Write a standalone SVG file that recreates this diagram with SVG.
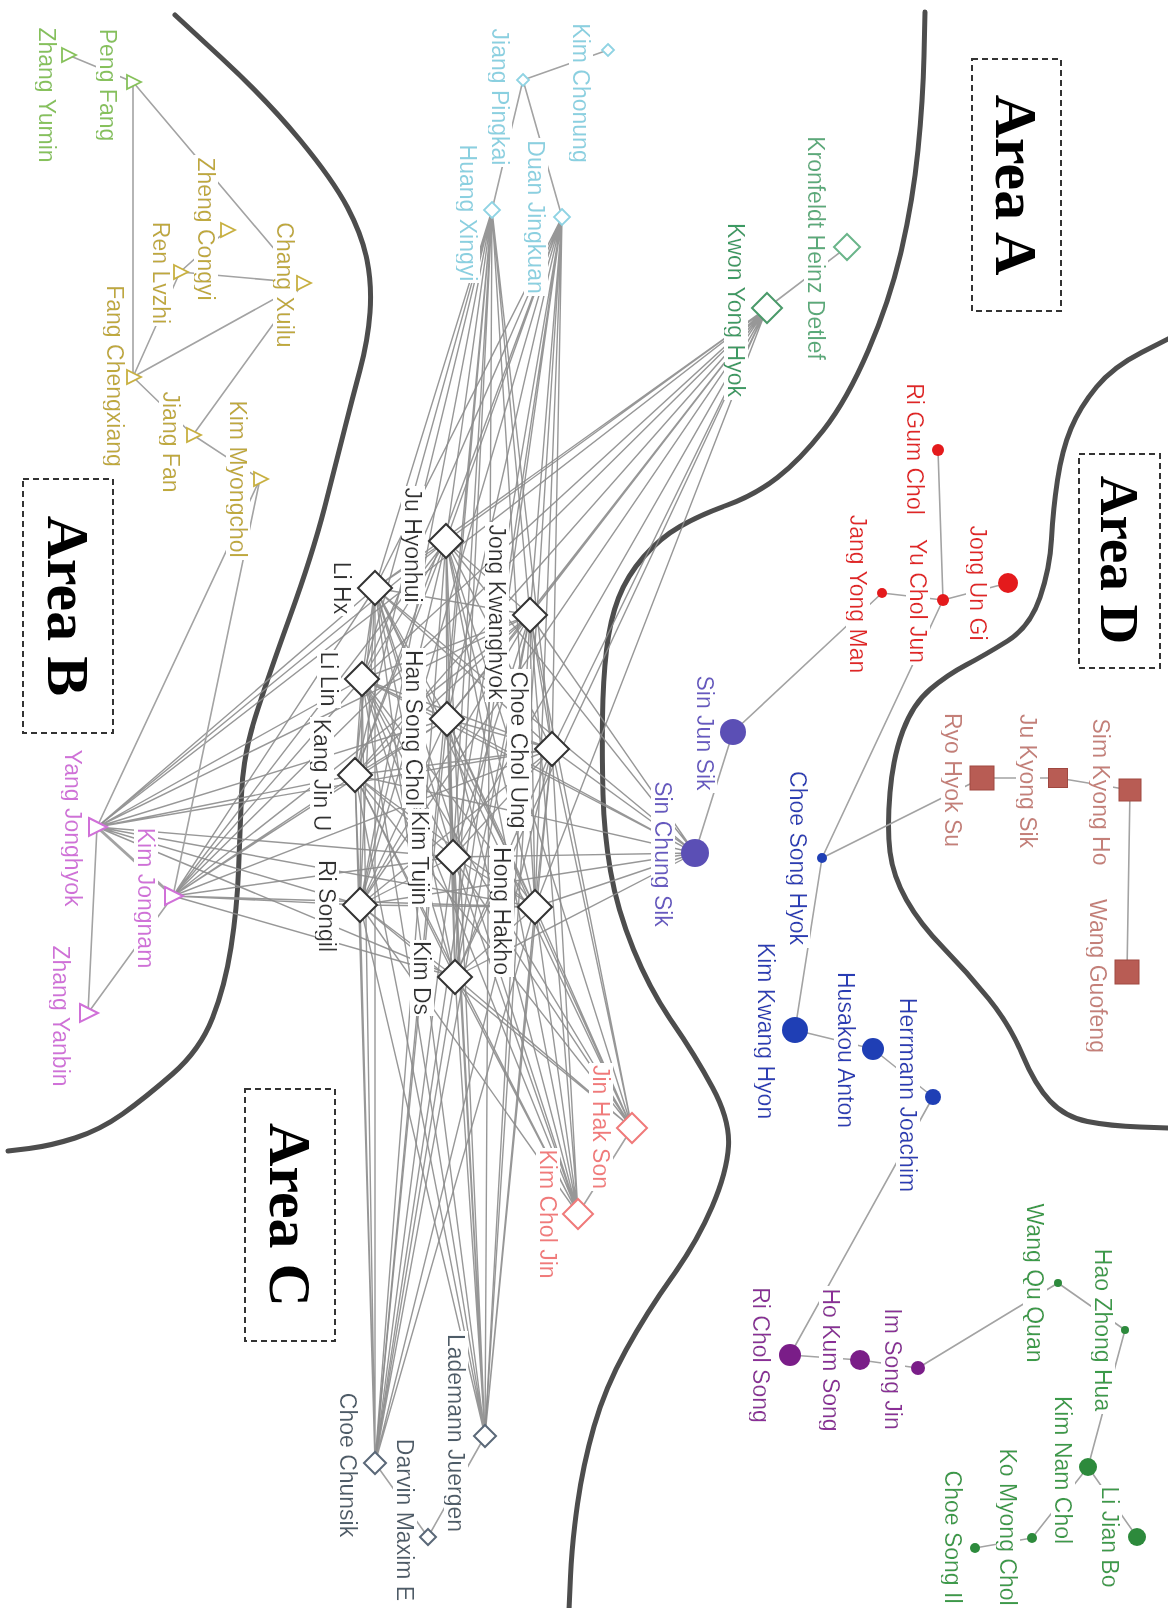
<svg xmlns="http://www.w3.org/2000/svg" xmlns:xlink="http://www.w3.org/1999/xlink" width="1168" height="1608" viewBox="0 0 1168 1608">
<style>
.bd{fill:none;stroke:#4d4d4d;stroke-width:5;stroke-linecap:round}
.box{fill:none;stroke:#333;stroke-width:2;stroke-dasharray:6 4}
.area{font-family:"Liberation Serif","Times New Roman",serif;font-weight:bold;font-size:60px;fill:#000;text-anchor:middle}
.e{fill:none;stroke:#a3a3a3;stroke-width:1.6}
.ed{fill:none;stroke:#8c8c8c;stroke-width:1.4;stroke-opacity:.9}
.lb{font-family:"Liberation Sans",Arial,sans-serif;font-size:23px;text-anchor:middle;filter:url(#lbg)}
.c-gray{fill:#333}.c-lg{fill:#86c15a}.c-yl{fill:#bfa93a}.c-mg{fill:#d070d8}.c-cy{fill:#8ad0e0}.c-gr{fill:#3c9a64}.c-gr2{fill:#5aaa7a}
.c-red{fill:#e02828}.c-br{fill:#c47f78}.c-sb{fill:#6658c0}.c-bl{fill:#2a3db4}.c-pu{fill:#8a2f96}.c-dg{fill:#3a9a48}.c-pk{fill:#f07a7a}.c-sl{fill:#4d5b68}
.s-gray{fill:#fff;stroke:#333;stroke-width:2}.s-gr{fill:#fff;stroke:#4a9a6a;stroke-width:2}.s-gr2{fill:#fff;stroke:#6ab58a;stroke-width:2}
.s-cy{fill:#fff;stroke:#8fd3e3;stroke-width:1.8}.s-pk{fill:#fff;stroke:#f07a7a;stroke-width:2}.s-sl{fill:#fff;stroke:#5a6878;stroke-width:2}
.s-lg{fill:#fff;stroke:#86c15a;stroke-width:1.8}.s-yl{fill:#fff;stroke:#c8b040;stroke-width:1.8}.s-mg{fill:#fff;stroke:#d070d8;stroke-width:2}
.f-red{fill:#e41a1c}.f-sb{fill:#5b4fb5}.f-bl{fill:#1f3fb5}.f-pu{fill:#7a1d88}.f-dg{fill:#2d8a3c}.f-br{fill:#b85c54;stroke:#a04840;stroke-width:1}
</style>
<defs>
<filter id="lbg" x="-0.01" y="0.05" width="1.02" height="0.9">
<feFlood flood-color="#fff" result="bg"/>
<feComposite in="SourceGraphic" in2="bg" operator="over"/>
</filter>
<path id="dL" d="M0,-17L17,0L0,17L-17,0Z"/>
<path id="dM" d="M0,-15L15,0L0,15L-15,0Z"/>
<path id="dK" d="M0,-13L13,0L0,13L-13,0Z"/>
<path id="dS" d="M0,-11L11,0L0,11L-11,0Z"/>
<path id="dX" d="M0,-8L8,0L0,8L-8,0Z"/>
<path id="dXX" d="M0,-6L6,0L0,6L-6,0Z"/>
<path id="tS" d="M-6,-7L8,0L-6,7Z"/>
<path id="tL" d="M-8,-9L10,0L-8,9Z"/>
</defs>
<rect width="1168" height="1608" fill="#fff"/>

<g id="boundaries">
<path class="bd" d="M175,15 L221,57.5 Q267,100 300,140 Q333,180 347.5,207.5 Q362,235 367,260 Q372,285 370,312.5 Q368,340 360,370 Q352,400 345,427.5 Q338,455 325.5,504 Q313,553 290,616.5 Q267,680 255,718 Q243,756 241.5,794.5 Q240,833 238.5,871 Q237,909 231,947.5 Q225,986 212.5,1018 Q200,1050 172.5,1074 Q145,1098 122.5,1114 Q100,1130 75,1138 Q50,1146 29,1148.5 L8,1151"/>
<path class="bd" d="M925,12 L924,56 Q923,100 918,150 Q913,200 901.5,250 Q890,300 868.5,350 Q847,400 823.5,430 Q800,460 777.5,477.5 Q755,495 727.5,505 Q700,515 680,526.5 Q660,538 643.5,557 Q627,576 618.5,598 Q610,620 606.5,650 Q603,680 602.5,718 Q602,756 603,794.5 Q604,833 610.5,871 Q617,909 633.5,949.5 Q650,990 672.5,1022.5 Q695,1055 712.5,1087.5 Q730,1120 728.5,1146 Q727,1172 712,1207 Q697,1242 672,1277 Q647,1312 626,1350 Q605,1388 594,1426.5 Q583,1465 577.5,1504 Q572,1543 570.5,1576.5 L569,1610"/>
<path class="bd" d="M1170,338 L1141.5,352.5 Q1113,367 1096.5,387 Q1080,407 1071,428.5 Q1062,450 1057.5,480 Q1053,510 1051.5,539 Q1050,568 1040,597.5 Q1030,627 1007.5,641 Q985,655 966,665 Q947,675 930,689.5 Q913,704 903,730.5 Q893,757 890,792.5 Q887,828 890,852 Q893,876 906.5,900 Q920,924 943.5,948 Q967,972 988.5,998.5 Q1010,1025 1022.5,1055 Q1035,1085 1050,1101 Q1065,1117 1087.5,1121.5 Q1110,1126 1140,1127 L1170,1128"/>
</g>

<g id="area-labels">
<g id="area-a"><rect class="box" x="972" y="59" width="89" height="252"/><text class="area" transform="translate(996,185) rotate(90)">Area A</text></g>
<g id="area-b"><rect class="box" x="23" y="479" width="90" height="254"/><text class="area" transform="translate(48,606) rotate(90)">Area B</text></g>
<g id="area-c"><rect class="box" x="245" y="1089" width="90" height="252"/><text class="area" transform="translate(270,1215) rotate(90)">Area C</text></g>
<g id="area-d"><rect class="box" x="1079" y="454" width="81" height="214"/><text class="area" style="font-size:55px" transform="translate(1101,560) rotate(90)">Area D</text></g>
</g>

<g id="connectors">
<path class="ed" d="M492,210L375,588M492,210L446,541M492,210L530,615M492,210L362,679M492,210L447,719M492,210L552,749M492,210L355,775M492,210L453,857M492,210L535,907M492,210L360,905M492,210L455,977M492,210L485,1436M492,210L375,1463"/>
<path class="ed" d="M562,217L375,588M562,217L446,541M562,217L530,615M562,217L362,679M562,217L447,719M562,217L552,749M562,217L355,775M562,217L453,857M562,217L535,907M562,217L360,905M562,217L455,977M562,217L485,1436M562,217L375,1463"/>
<path class="ed" d="M767,308L375,588M767,308L446,541M767,308L530,615M767,308L362,679M767,308L447,719M767,308L552,749M767,308L355,775M767,308L453,857M767,308L535,907M767,308L360,905M767,308L455,977M767,308L97,827M767,308L173,896"/>
<path class="ed" d="M695,853L375,588M695,853L446,541M695,853L530,615M695,853L362,679M695,853L447,719M695,853L552,749M695,853L355,775M695,853L453,857M695,853L535,907M695,853L360,905M695,853L455,977"/>
<path class="ed" d="M97,827L375,588M97,827L446,541M97,827L530,615M97,827L362,679M97,827L447,719M97,827L552,749M97,827L355,775M97,827L453,857M97,827L535,907M97,827L360,905M97,827L455,977"/>
<path class="ed" d="M173,896L375,588M173,896L446,541M173,896L530,615M173,896L362,679M173,896L447,719M173,896L552,749M173,896L355,775M173,896L453,857M173,896L535,907M173,896L360,905M173,896L455,977"/>
<path class="ed" d="M632,1128L375,588M632,1128L446,541M632,1128L530,615M632,1128L362,679M632,1128L447,719M632,1128L552,749M632,1128L355,775M632,1128L453,857M632,1128L535,907M632,1128L360,905M632,1128L455,977"/>
<path class="ed" d="M578,1214L375,588M578,1214L446,541M578,1214L530,615M578,1214L362,679M578,1214L447,719M578,1214L552,749M578,1214L355,775M578,1214L453,857M578,1214L535,907M578,1214L360,905M578,1214L455,977"/>
<path class="ed" d="M485,1436L375,588M485,1436L446,541M485,1436L530,615M485,1436L362,679M485,1436L447,719M485,1436L552,749M485,1436L355,775M485,1436L453,857M485,1436L535,907M485,1436L360,905M485,1436L455,977"/>
<path class="ed" d="M375,1463L375,588M375,1463L446,541M375,1463L530,615M375,1463L362,679M375,1463L447,719M375,1463L552,749M375,1463L355,775M375,1463L453,857M375,1463L535,907M375,1463L360,905M375,1463L455,977"/>
<path class="ed" d="M375,588L446,541M375,588L530,615M375,588L362,679M375,588L447,719M375,588L552,749M375,588L355,775M375,588L453,857M375,588L535,907M375,588L360,905M375,588L455,977M446,541L530,615M446,541L362,679M446,541L447,719M446,541L552,749M446,541L355,775M446,541L453,857M446,541L535,907M446,541L360,905M446,541L455,977M530,615L362,679M530,615L447,719M530,615L552,749M530,615L355,775M530,615L453,857M530,615L535,907M530,615L360,905M530,615L455,977M362,679L447,719M362,679L552,749M362,679L355,775M362,679L453,857M362,679L535,907M362,679L360,905M362,679L455,977M447,719L552,749M447,719L355,775M447,719L453,857M447,719L535,907M447,719L360,905M447,719L455,977M552,749L355,775M552,749L453,857M552,749L535,907M552,749L360,905M552,749L455,977M355,775L453,857M355,775L535,907M355,775L360,905M355,775L455,977M453,857L535,907M453,857L360,905M453,857L455,977M535,907L360,905M535,907L455,977M360,905L455,977"/>
<path class="e" d="M68,55L133,82M133,82L303,283M133,82L133,377M227,230L180,272M180,272L303,283M133,377L180,272M133,377L303,283M133,377L193,435M303,283L193,435M193,435L260,479M260,479L97,827M260,479L173,896M97,827L88,1013M173,896L88,1013"/>
<path class="e" style="stroke-width:3" d="M97,827L173,896"/>
<path class="e" d="M608,50L523,80M523,80L562,217M523,80L492,210M847,247L767,308"/>
<path class="e" d="M938,450L943,600M943,600L1008,583M943,600L882,593M882,593L733,732M943,600L822,858"/>
<path class="e" d="M1130,790L1058,778M1058,778L982,778M1130,790L1127,972M982,778L822,858"/>
<path class="e" d="M733,732L695,853M822,858L795,1030M795,1030L873,1049M873,1049L933,1097M933,1097L790,1355"/>
<path class="e" d="M790,1355L860,1360M860,1360L918,1368M918,1368L1058,1283"/>
<path class="e" d="M1058,1283L1125,1330M1125,1330L1088,1467M1088,1467L1137,1537M1088,1467L1032,1538M1032,1538L975,1548"/>
<path class="e" d="M485,1436L428,1537M375,1463L428,1537M632,1128L578,1214"/>
</g>

<g id="nodes">
<g id="n-zhang-yumin"><text class="lb c-lg" transform="translate(39,95) rotate(90)">Zhang Yumin</text><use href="#tS" x="68" y="55" class="s-lg"/></g>
<g id="n-peng-fang"><text class="lb c-lg" transform="translate(100,85) rotate(90)">Peng Fang</text><use href="#tS" x="133" y="82" class="s-lg"/></g>
<g id="n-zheng-congyi"><text class="lb c-yl" transform="translate(198,229) rotate(90)">Zheng Congyi</text><use href="#tS" x="227" y="230" class="s-yl"/></g>
<g id="n-ren-lvzhi"><text class="lb c-yl" transform="translate(153,273) rotate(90)">Ren Lvzhi</text><use href="#tS" x="180" y="272" class="s-yl"/></g>
<g id="n-chang-xuilu"><text class="lb c-yl" transform="translate(277,285) rotate(90)">Chang Xuilu</text><use href="#tS" x="303" y="283" class="s-yl"/></g>
<g id="n-fang-chengxiang"><text class="lb c-yl" transform="translate(107,376) rotate(90)">Fang Chengxiang</text><use href="#tS" x="133" y="377" class="s-yl"/></g>
<g id="n-jiang-fan"><text class="lb c-yl" transform="translate(163,442) rotate(90)">Jiang Fan</text><use href="#tS" x="193" y="435" class="s-yl"/></g>
<g id="n-kim-myongchol"><text class="lb c-yl" transform="translate(230,479) rotate(90)">Kim Myongchol</text><use href="#tS" x="260" y="479" class="s-yl"/></g>
<g id="n-yang-jonghyok"><text class="lb c-mg" transform="translate(65,828) rotate(90)">Yang Jonghyok</text><use href="#tL" x="97" y="827" class="s-mg"/></g>
<g id="n-kim-jongnam"><text class="lb c-mg" transform="translate(138,898) rotate(90)">Kim Jongnam</text><use href="#tL" x="173" y="896" class="s-mg"/></g>
<g id="n-zhang-yanbin"><text class="lb c-mg" transform="translate(53,1016) rotate(90)">Zhang Yanbin</text><use href="#tL" x="88" y="1013" class="s-mg"/></g>

<g id="n-kim-chonung"><text class="lb c-cy" transform="translate(573,93) rotate(90)">Kim Chonung</text><use href="#dXX" x="608" y="50" class="s-cy"/></g>
<g id="n-jiang-pingkai"><text class="lb c-cy" transform="translate(492,97) rotate(90)">Jiang Pingkai</text><use href="#dXX" x="523" y="80" class="s-cy"/></g>
<g id="n-duan-jingkuan"><text class="lb c-cy" transform="translate(528,217) rotate(90)">Duan Jingkuan</text><use href="#dX" x="562" y="217" class="s-cy"/></g>
<g id="n-huang-xingyi"><text class="lb c-cy" transform="translate(460,213) rotate(90)">Huang Xingyi</text><use href="#dX" x="492" y="210" class="s-cy"/></g>
<g id="n-kronfeldt"><text class="lb c-gr2" transform="translate(808,248) rotate(90)">Kronfeldt Heinz Detlef</text><use href="#dK" x="847" y="247" class="s-gr2"/></g>
<g id="n-kwon-yong-hyok"><text class="lb c-gr" transform="translate(728,310) rotate(90)">Kwon Yong Hyok</text><use href="#dM" x="767" y="308" class="s-gr"/></g>

<g id="n-ri-gum-chol"><text class="lb c-red" transform="translate(907,449) rotate(90)">Ri Gum Chol</text><circle cx="938" cy="450" r="6" class="f-red"/></g>
<g id="n-jong-un-gi"><text class="lb c-red" transform="translate(970,583) rotate(90)">Jong Un Gi</text><circle cx="1008" cy="583" r="10" class="f-red"/></g>
<g id="n-yu-chol-jun"><text class="lb c-red" transform="translate(910,601) rotate(90)">Yu Chol Jun</text><circle cx="943" cy="600" r="6" class="f-red"/></g>
<g id="n-jang-yong-man"><text class="lb c-red" transform="translate(850,594) rotate(90)">Jang Yong Man</text><circle cx="882" cy="593" r="5" class="f-red"/></g>

<g id="n-sim-kyong-ho"><text class="lb c-br" transform="translate(1093,792) rotate(90)">Sim Kyong Ho</text><rect x="1119" y="779" width="22" height="22" class="f-br"/></g>
<g id="n-ju-kyong-sik"><text class="lb c-br" transform="translate(1020,781) rotate(90)">Ju Kyong Sik</text><rect x="1048.5" y="768.5" width="19" height="19" class="f-br"/></g>
<g id="n-ryo-hyok-su"><text class="lb c-br" transform="translate(945,780) rotate(90)">Ryo Hyok Su</text><rect x="970" y="766" width="24" height="24" class="f-br"/></g>
<g id="n-wang-guofeng"><text class="lb c-br" transform="translate(1090,976) rotate(90)">Wang Guofeng</text><rect x="1115" y="960" width="24" height="24" class="f-br"/></g>

<g id="n-sin-jun-sik"><text class="lb c-sb" transform="translate(697,733) rotate(90)">Sin Jun Sik</text><circle cx="733" cy="732" r="13" class="f-sb"/></g>
<g id="n-sin-chung-sik"><text class="lb c-sb" transform="translate(655,854) rotate(90)">Sin Chung Sik</text><circle cx="695" cy="853" r="14" class="f-sb"/></g>
<g id="n-choe-song-hyok"><text class="lb c-bl" transform="translate(790,858) rotate(90)">Choe Song Hyok</text><circle cx="822" cy="858" r="5" class="f-bl"/></g>
<g id="n-kim-kwang-hyon"><text class="lb c-bl" transform="translate(758,1031) rotate(90)">Kim Kwang Hyon</text><circle cx="795" cy="1030" r="13" class="f-bl"/></g>
<g id="n-husakou-anton"><text class="lb c-bl" transform="translate(838,1050) rotate(90)">Husakou Anton</text><circle cx="873" cy="1049" r="11" class="f-bl"/></g>
<g id="n-herrmann-joachim"><text class="lb c-bl" transform="translate(900,1095) rotate(90)">Herrmann Joachim</text><circle cx="933" cy="1097" r="8" class="f-bl"/></g>

<g id="n-ri-chol-song"><text class="lb c-pu" transform="translate(753,1355) rotate(90)">Ri Chol Song</text><circle cx="790" cy="1355" r="11" class="f-pu"/></g>
<g id="n-ho-kum-song"><text class="lb c-pu" transform="translate(823,1360) rotate(90)">Ho Kum Song</text><circle cx="860" cy="1360" r="10" class="f-pu"/></g>
<g id="n-im-song-jin"><text class="lb c-pu" transform="translate(885,1369) rotate(90)">Im Song Jin</text><circle cx="918" cy="1368" r="7" class="f-pu"/></g>

<g id="n-wang-qu-quan"><text class="lb c-dg" transform="translate(1027,1283) rotate(90)">Wang Qu Quan</text><circle cx="1058" cy="1283" r="4" class="f-dg"/></g>
<g id="n-hao-zhong-hua"><text class="lb c-dg" transform="translate(1095,1330) rotate(90)">Hao Zhong Hua</text><circle cx="1125" cy="1330" r="4" class="f-dg"/></g>
<g id="n-kim-nam-chol"><text class="lb c-dg" transform="translate(1055,1470) rotate(90)">Kim Nam Chol</text><circle cx="1088" cy="1467" r="9" class="f-dg"/></g>
<g id="n-li-jian-bo"><text class="lb c-dg" transform="translate(1102,1537) rotate(90)">Li Jian Bo</text><circle cx="1137" cy="1537" r="9" class="f-dg"/></g>
<g id="n-ko-myong-chol"><text class="lb c-dg" transform="translate(1000,1527) rotate(90)">Ko Myong Chol</text><circle cx="1032" cy="1538" r="5" class="f-dg"/></g>
<g id="n-choe-song-il"><text class="lb c-dg" transform="translate(945,1537) rotate(90)">Choe Song Il</text><circle cx="975" cy="1548" r="5" class="f-dg"/></g>

<g id="n-li-hx"><text class="lb c-gray" transform="translate(334,588) rotate(90)">Li Hx</text><use href="#dL" x="375" y="588" class="s-gray"/></g>
<g id="n-ju-hyonhui"><text class="lb c-gray" transform="translate(405,545) rotate(90)">Ju Hyonhui</text><use href="#dL" x="446" y="541" class="s-gray"/></g>
<g id="n-jong-kwanghyok"><text class="lb c-gray" transform="translate(489,612) rotate(90)">Jong Kwanghyok</text><use href="#dL" x="530" y="615" class="s-gray"/></g>
<g id="n-li-lin"><text class="lb c-gray" transform="translate(321,679) rotate(90)">Li Lin</text><use href="#dL" x="362" y="679" class="s-gray"/></g>
<g id="n-han-song-chol"><text class="lb c-gray" transform="translate(406,728) rotate(90)">Han Song Chol</text><use href="#dL" x="447" y="719" class="s-gray"/></g>
<g id="n-choe-chol-ung"><text class="lb c-gray" transform="translate(511,750) rotate(90)">Choe Chol Ung</text><use href="#dL" x="552" y="749" class="s-gray"/></g>
<g id="n-kang-jin-u"><text class="lb c-gray" transform="translate(314,775) rotate(90)">Kang Jin U</text><use href="#dL" x="355" y="775" class="s-gray"/></g>
<g id="n-kim-tujin"><text class="lb c-gray" transform="translate(412,858) rotate(90)">Kim Tujin</text><use href="#dL" x="453" y="857" class="s-gray"/></g>
<g id="n-hong-hakho"><text class="lb c-gray" transform="translate(494,911) rotate(90)">Hong Hakho</text><use href="#dL" x="535" y="907" class="s-gray"/></g>
<g id="n-ri-songil"><text class="lb c-gray" transform="translate(319,906) rotate(90)">Ri Songil</text><use href="#dL" x="360" y="905" class="s-gray"/></g>
<g id="n-kim-ds"><text class="lb c-gray" transform="translate(414,978) rotate(90)">Kim Ds</text><use href="#dL" x="455" y="977" class="s-gray"/></g>

<g id="n-jin-hak-son"><text class="lb c-pk" transform="translate(593,1127) rotate(90)">Jin Hak Son</text><use href="#dM" x="632" y="1128" class="s-pk"/></g>
<g id="n-kim-chol-jin"><text class="lb c-pk" transform="translate(540,1214) rotate(90)">Kim Chol Jin</text><use href="#dM" x="578" y="1214" class="s-pk"/></g>
<g id="n-lademann-juergen"><text class="lb c-sl" transform="translate(448,1433) rotate(90)">Lademann Juergen</text><use href="#dS" x="485" y="1436" class="s-sl"/></g>
<g id="n-darvin-maxim-e"><text class="lb c-sl" transform="translate(397,1520) rotate(90)">Darvin Maxim E</text><use href="#dX" x="428" y="1537" class="s-sl"/></g>
<g id="n-choe-chunsik"><text class="lb c-sl" transform="translate(340,1465) rotate(90)">Choe Chunsik</text><use href="#dS" x="375" y="1463" class="s-sl"/></g>
</g>
</svg>
